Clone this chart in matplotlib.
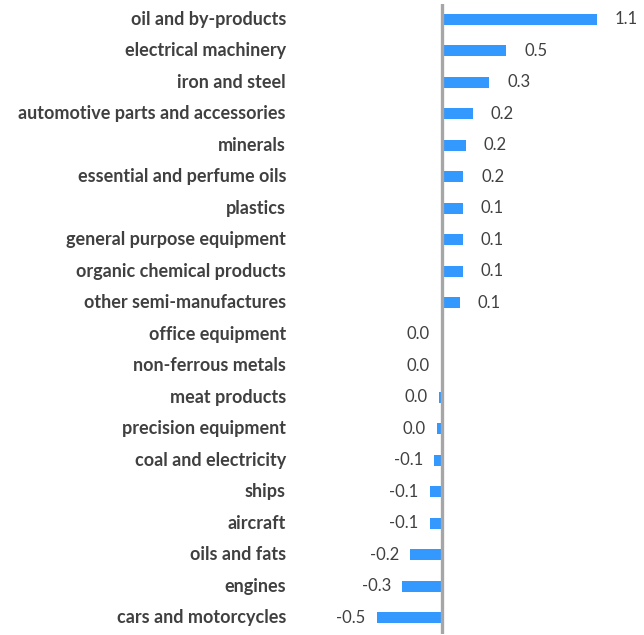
import matplotlib
matplotlib.use("Agg")
import matplotlib.pyplot as plt
from matplotlib.transforms import blended_transform_factory

categories = [
    "oil and by-products", "electrical machinery", "iron and steel",
    "automotive parts and accessories", "minerals", "essential and perfume oils",
    "plastics", "general purpose equipment", "organic chemical products",
    "other semi-manufactures", "office equipment", "non-ferrous metals",
    "meat products", "precision equipment", "coal and electricity", "ships",
    "aircraft", "oils and fats", "engines", "cars and motorcycles",
]
values = [1.10, 0.46, 0.34, 0.22, 0.17, 0.155, 0.15, 0.15, 0.15, 0.13,
          -0.003, -0.004, -0.02, -0.035, -0.05, -0.085, -0.085, -0.22, -0.28, -0.46]
value_labels = ["1.1", "0.5", "0.3", "0.2", "0.2", "0.2", "0.1", "0.1", "0.1", "0.1",
                "0.0", "0.0", "0.0", "0.0", "-0.1", "-0.1", "-0.1", "-0.2", "-0.3", "-0.5"]

W, H = 644, 635
dpi = 100
fig = plt.figure(figsize=(W / dpi, H / dpi), dpi=dpi)

left_px, right_px = 371, 639
top_px, bottom_px = 3.5, 633.5
ax = fig.add_axes([left_px / W, 1 - bottom_px / H, (right_px - left_px) / W, (bottom_px - top_px) / H])

n = len(categories)
ypos = list(range(n))
bar_color = "#3399FF"
ax.barh(ypos, values, height=0.35, color=bar_color, zorder=2)
ax.set_ylim(n - 0.5, -0.5)
ax.set_xlim(-0.5, 1.4)

for s in ["top", "right", "bottom", "left"]:
    ax.spines[s].set_visible(False)
ax.set_xticks([])
ax.set_yticks([])
ax.axvline(0, color="#A6A6A6", lw=2.4, zorder=3)

trans = blended_transform_factory(fig.transFigure, ax.transData)
for y, c in zip(ypos, categories):
    ax.text(286 / W, y, c, transform=trans, ha="right", va="center",
            fontsize=13, fontweight="bold", color="#404040", family="Lato")

for y, v, lab in zip(ypos, values, value_labels):
    if v > 0:
        ax.annotate(lab, (v, y), xytext=(13, 0), textcoords="offset points",
                    ha="left", va="center", fontsize=12, color="#404040", family="Lato")
    else:
        ax.annotate(lab, (v, y), xytext=(-8, 0), textcoords="offset points",
                    ha="right", va="center", fontsize=12, color="#404040", family="Lato")

fig.savefig("out.png", dpi=dpi)
